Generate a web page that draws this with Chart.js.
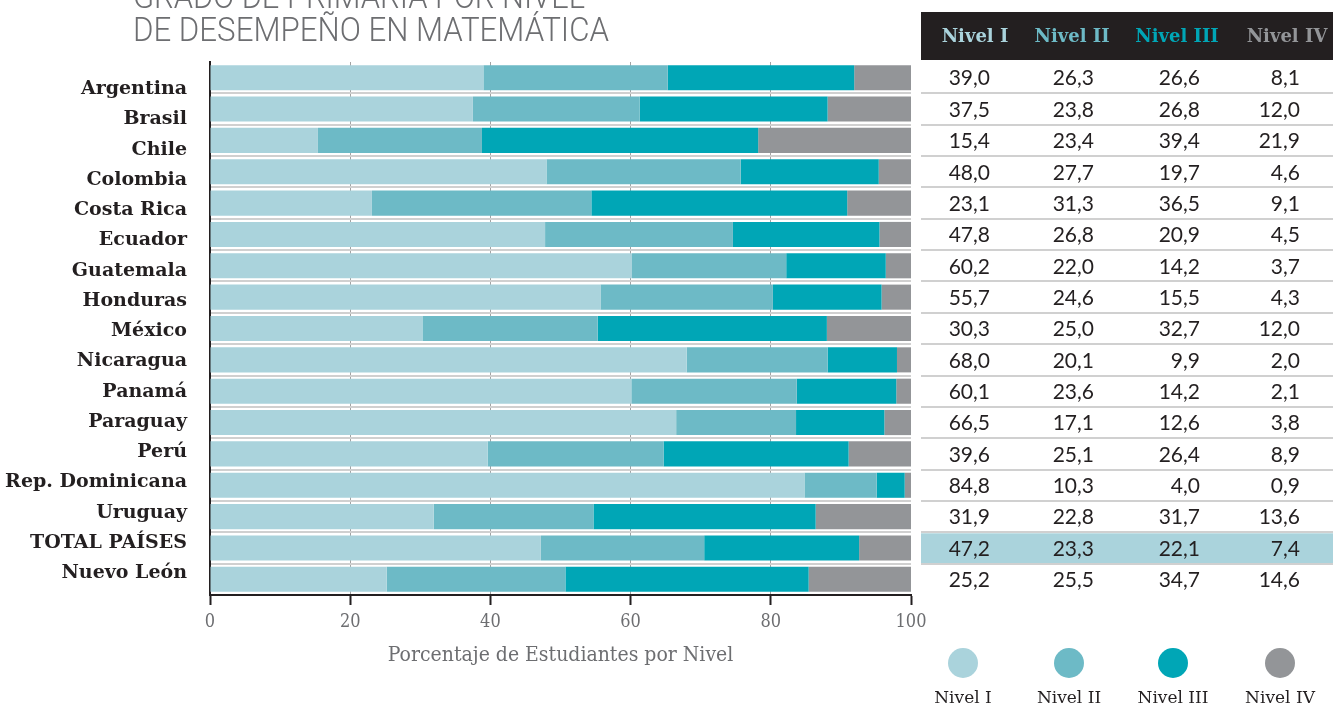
<!DOCTYPE html>
<html lang="es">
<head>
<meta charset="utf-8">
<title>Desempeño en Matemática</title>
<script src="https://cdn.jsdelivr.net/npm/chart.js@4.4.1/dist/chart.umd.min.js"></script>
<style>
  html, body { margin: 0; padding: 0; background: #fff; }
  .wrap { width: 1333px; height: 708px; position: relative; }
</style>
</head>
<body>
<div class="wrap"><canvas id="chart"></canvas></div>
<script>
const countries = ["Argentina", "Brasil", "Chile", "Colombia", "Costa Rica", "Ecuador", "Guatemala",
  "Honduras", "México", "Nicaragua", "Panamá", "Paraguay", "Perú", "Rep. Dominicana", "Uruguay",
  "TOTAL PAÍSES", "Nuevo León"];
const nivel1 = [39.0, 37.5, 15.4, 48.0, 23.1, 47.8, 60.2, 55.7, 30.3, 68.0, 60.1, 66.5, 39.6, 84.8, 31.9, 47.2, 25.2];
const nivel2 = [26.3, 23.8, 23.4, 27.7, 31.3, 26.8, 22.0, 24.6, 25.0, 20.1, 23.6, 17.1, 25.1, 10.3, 22.8, 23.3, 25.5];
const nivel3 = [26.6, 26.8, 39.4, 19.7, 36.5, 20.9, 14.2, 15.5, 32.7, 9.9, 14.2, 12.6, 26.4, 4.0, 31.7, 22.1, 34.7];
const nivel4 = [8.1, 12.0, 21.9, 4.6, 9.1, 4.5, 3.7, 4.3, 12.0, 2.0, 2.1, 3.8, 8.9, 0.9, 13.6, 7.4, 14.6];
const levelNames = ["Nivel I", "Nivel II", "Nivel III", "Nivel IV"];
const levelColors = ["#aad3dc", "#6dbac6", "#00a6b6", "#939598"];
const titleLines = ["GRADO DE PRIMARIA POR NIVEL", "DE DESEMPEÑO EN MATEMÁTICA"];
const axisTitle = "Porcentaje de Estudiantes por Nivel";
const highlightRow = "TOTAL PAÍSES";

const levels = [nivel1, nivel2, nivel3, nivel4];
const fmt = v => v.toFixed(1).replace(".", ",");

// the title, country names, the table of values and the round legend
const sidePlugin = {
  id: "sidePanel",
  afterDraw(chart) {
    const ctx = chart.ctx;
    const y = chart.scales.y;
    const area = chart.chartArea;
    const half = (y.getPixelForValue(1) - y.getPixelForValue(0)) / 2;
    const tableLeft = 921, tableRight = 1333;
    const colRight = [990, 1094, 1200, 1300];
    const headCenter = [975, 1072, 1177, 1287];
    ctx.save();

    // title
    ctx.fillStyle = "#6d6e71";
    ctx.font = "300 34px Roboto";
    ctx.textAlign = "left";
    ctx.textBaseline = "alphabetic";
    ctx.fillText(titleLines[0], 133, 8, 452);
    ctx.fillText(titleLines[1], 133, 41, 476);

    // country names: in the original they sit a bit tighter than the bars
    const first = area.top + 32, last = area.bottom - 17;
    const step = (last - first) / (countries.length - 1);
    ctx.fillStyle = "#231f20";
    ctx.font = "bold 19px 'DejaVu Serif'";
    ctx.textAlign = "right";
    countries.forEach((c, i) => ctx.fillText(c, area.left - 23, first + i * step));

    // header band
    ctx.fillStyle = "#231f20";
    ctx.fillRect(tableLeft, 12, tableRight - tableLeft, 48);
    ctx.font = "bold 18px 'DejaVu Serif'";
    ctx.textAlign = "center";
    ctx.textBaseline = "middle";
    levelNames.forEach((n, i) => {
      ctx.fillStyle = levelColors[i];
      ctx.fillText(n, headCenter[i], 37);
    });

    // highlighted row
    const hi = countries.indexOf(highlightRow);
    const hy = y.getPixelForValue(hi);
    ctx.fillStyle = "#aad3dc";
    ctx.fillRect(tableLeft, hy - half + 1, tableRight - tableLeft, half * 2 - 1);

    // row separators
    ctx.strokeStyle = "#d0d0d0";
    ctx.lineWidth = 2;
    for (let i = 0; i < countries.length - 1; i++) {
      const ly = Math.round(y.getPixelForValue(i) + half);
      ctx.beginPath();
      ctx.moveTo(tableLeft, ly);
      ctx.lineTo(tableRight, ly);
      ctx.stroke();
    }

    // values
    ctx.fillStyle = "#231f20";
    ctx.font = "21px Lato";
    ctx.textAlign = "right";
    countries.forEach((c, r) => {
      const cy = y.getPixelForValue(r) + 1;
      levels.forEach((arr, k) => ctx.fillText(fmt(arr[r]), colRight[k], cy));
    });

    // legend
    const legendX = [963, 1069, 1173, 1280];
    levelNames.forEach((n, i) => {
      ctx.fillStyle = levelColors[i];
      ctx.beginPath();
      ctx.arc(legendX[i], 663, 15, 0, Math.PI * 2);
      ctx.fill();
      ctx.fillStyle = "#231f20";
      ctx.font = "17px 'DejaVu Serif'";
      ctx.textAlign = "center";
      ctx.fillText(n, legendX[i], 699);
    });
    ctx.restore();
  }
};

const ctx = document.getElementById("chart").getContext("2d");

new Chart(ctx, {
  type: "bar",
  data: {
    labels: countries,
    datasets: levels.map((arr, i) => ({
      label: levelNames[i],
      data: arr,
      backgroundColor: levelColors[i],
      borderWidth: 0,
      barPercentage: 0.8,
      categoryPercentage: 1,
    })),
  },
  options: {
    indexAxis: "y",
    responsive: true,
    maintainAspectRatio: false,
    animation: false,
    layout: {
      padding: { top: 62, right: 422, left: 0, bottom: 0 }
    },
    plugins: {
      legend: { display: false },
      tooltip: { enabled: false },
    },
    scales: {
      x: {
        stacked: true,
        min: 0,
        max: 100,
        z: 1,
        afterFit: s => { s.height = 113; },
        border: { color: "#231f20", width: 2 },
        grid: {
          color: c => (c.tick && (c.tick.value === 0 || c.tick.value === 100)) ? "rgba(0,0,0,0)" : "#a3a3a3",
          lineWidth: 1,
          tickColor: "#231f20",
          tickLength: 10,
          tickWidth: 2,
        },
        ticks: {
          stepSize: 20,
          color: "#6d6e71",
          padding: 7,
          font: { size: 18, family: "'DejaVu Serif Condensed', 'DejaVu Serif'" },
        },
        title: {
          display: true,
          text: axisTitle,
          color: "#6d6e71",
          padding: { top: 0, bottom: 40 },
          font: { size: 21, family: "'DejaVu Serif Condensed', 'DejaVu Serif'" },
        },
      },
      y: {
        stacked: true,
        afterFit: s => { s.width = 210; },
        border: { color: "#231f20", width: 2 },
        grid: {
          offset: true,
          color: c => (c.index === undefined || c.index === 0) ? "rgba(0,0,0,0)" : "#d0d0d0",
          lineWidth: 2,
          drawTicks: false,
        },
        ticks: { display: false },
      },
    },
  },
  plugins: [sidePlugin],
});
</script>
</body>
</html>
